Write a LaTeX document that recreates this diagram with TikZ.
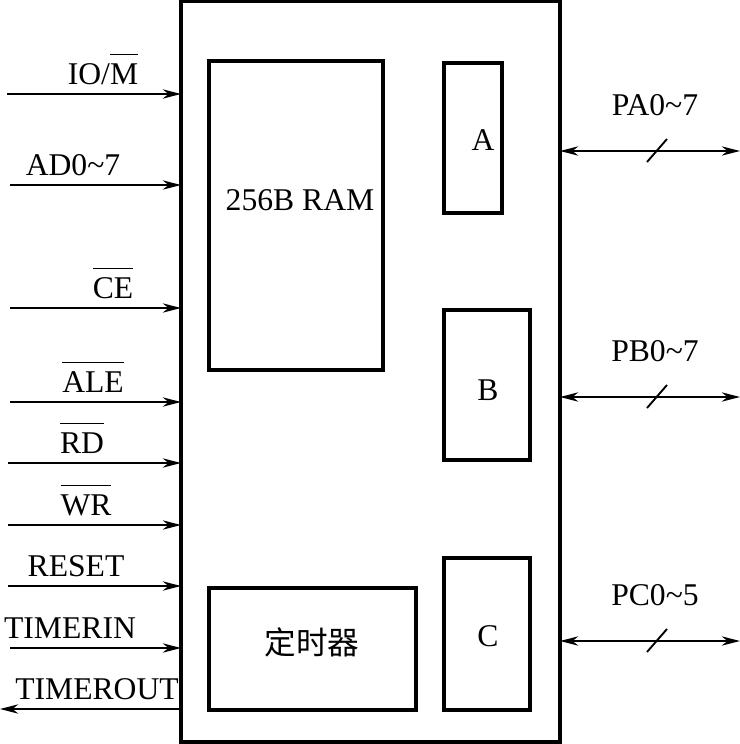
\documentclass[tikz,border=0pt]{standalone}
\usepackage{fontspec}
\setmainfont{Liberation Serif}
\newfontfamily\cjk{Noto Sans CJK SC}
\usepackage{tikz}
\usetikzlibrary{positioning,arrows.meta,calc}

\newcommand{\ovl}[1]{$\overline{\mbox{\rule{0pt}{0.88em}#1}}$}

\begin{document}
\begin{tikzpicture}[
    x=0.03cm, y=-0.03cm,
    font=\fontsize{27}{31}\selectfont,
    frame/.style = {draw=black, line width=3pt},
    blk/.style   = {draw=black, line width=2.6pt},
    sig/.style   = {-{Stealth[length=5.5mm,width=2.8mm]}, line width=1.6pt},
    bus/.style   = {{Stealth[length=5.5mm,width=2.8mm]}-{Stealth[length=5.5mm,width=2.8mm]}, line width=1.6pt},
    lbl/.style   = {inner sep=0pt},
]
\useasboundingbox (0,0) rectangle (740,744);

%======== chip and inner blocks ========
\draw[frame] (181,1) rectangle (560,742);
\coordinate (chipW) at (181,0);
\coordinate (chipE) at (560,0);

\draw[blk] (209,61) rectangle (383,370);
\node[lbl] (ram) at (300,200) {256B RAM};
\draw[blk] (444,63) rectangle (502,213);
\node[lbl] (pa) at (483,140) {A};
\draw[blk] (444,310) rectangle (530,460);
\node[lbl] (pb) at (488,390) {B};
\draw[blk] (444,558) rectangle (530,710);
\node[lbl] (pc) at (488,636) {C};
\draw[blk] (209,588) rectangle (416,710);
\node[lbl] (tmr) at (312,642) {\cjk 定时器};

%======== left side: control inputs ========
\foreach \n/\y/\xs/\lx/\t in {io/94/7/103/{IO/\ovl{M}},
                              ad/185/10/73/{AD0\textasciitilde 7},
                              ce/308/10/113/{\ovl{CE}},
                              ale/402/10/93/{\ovl{ALE}},
                              rd/463/8/82/{\ovl{RD}},
                              wr/525/8/86/{\ovl{WR}},
                              rst/586/8/76/{RESET},
                              tin/648/10/70/{TIMERIN}} {
    \coordinate (\n) at (\xs,\y);
    \draw[sig] (\n) -- (\n -| chipW);
    \node[lbl, anchor=base] (\n-l) at (\lx,\y-10) {\t};
}

% timer output
\coordinate (tout) at (0,709);
\draw[sig] (tout -| chipW) -- (tout);
\node[lbl, anchor=base] (tout-l) at (97,699) {TIMEROUT};

%======== right side: port buses ========
\foreach \n/\y/\t in {pa/151/PA0\textasciitilde 7, pb/397/PB0\textasciitilde 7, pc/641/PC0\textasciitilde 5} {
    \coordinate (\n-e) at (740,\y);
    \draw[bus] (\n-e -| chipE) -- (\n-e);
    \draw[line width=1.6pt] (647,\y+11) -- (667,\y-12);
    \node[lbl, anchor=base] (\n-l) at (655,\y-36) {\t};
}

\end{tikzpicture}
\end{document}
